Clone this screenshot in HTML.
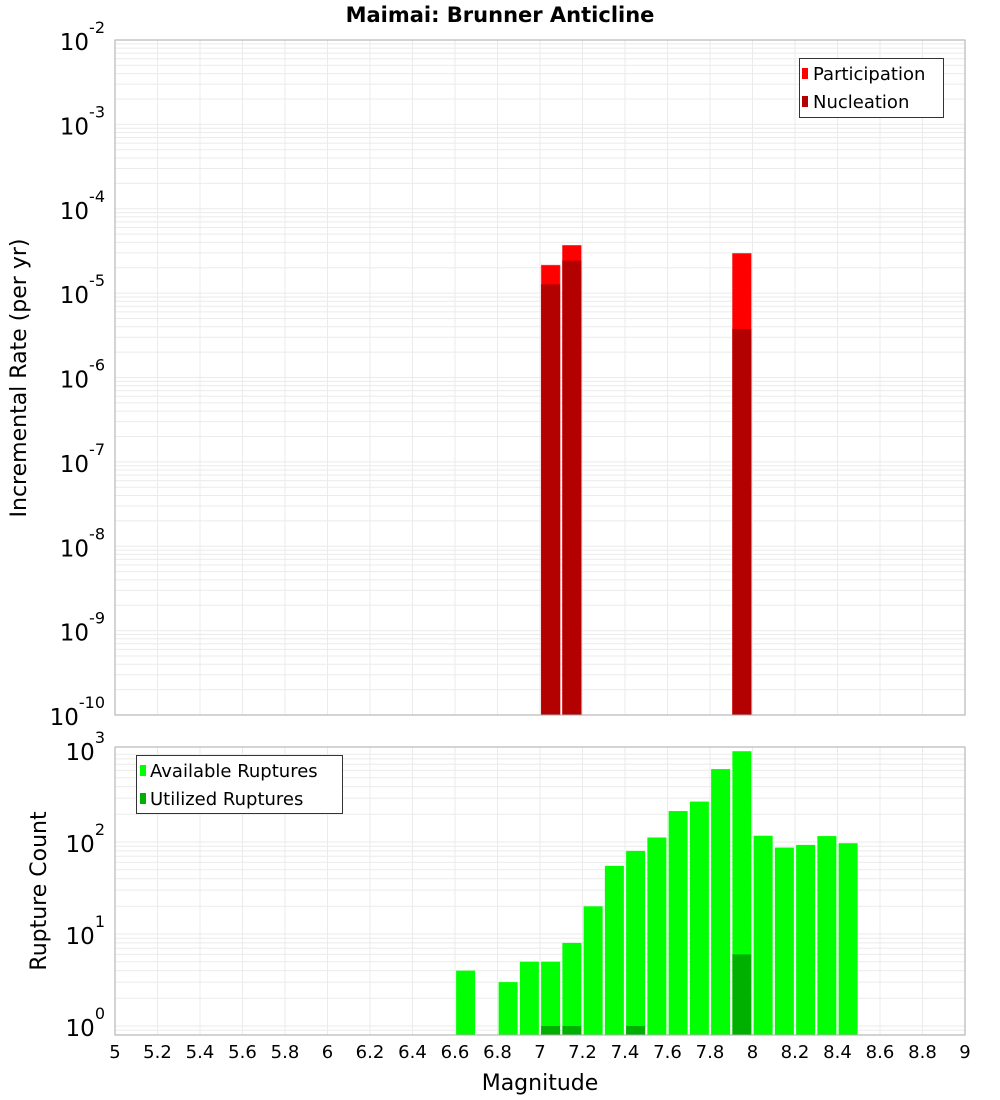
<!DOCTYPE html>
<html><head><meta charset="utf-8"><style>
body{margin:0;background:#fff;}
svg{display:block;font-family:"DejaVu Sans","Liberation Sans",sans-serif;}
</style></head><body>
<svg id="chart" width="1000" height="1100" viewBox="0 0 1000 1100">
<text x="500" y="22" text-anchor="middle" font-size="21" font-weight="bold">Maimai: Brunner Anticline</text>
<g id="topPlot"></g>
<g id="botPlot"></g>
<text transform="translate(26,378) rotate(-90)" text-anchor="middle" font-size="22">Incremental Rate (per yr)</text>
<text transform="translate(46,891) rotate(-90)" text-anchor="middle" font-size="22">Rupture Count</text>
<text x="540" y="1090" text-anchor="middle" font-size="22">Magnitude</text>
</svg>
<script>
const NS="http://www.w3.org/2000/svg";
const partMags=[7.05,7.15,7.95];
const partRates=[2.15e-5,3.69e-5,2.96e-5];
const nuclMags=[7.05,7.15,7.95];
const nuclRates=[1.27e-5,2.43e-5,3.76e-6];
const availMags=[6.65,6.85,6.95,7.05,7.15,7.25,7.35,7.45,7.55,7.65,7.75,7.85,7.95,8.05,8.15,8.25,8.35,8.45];
const availCounts=[4,3,5,5,8,20,55,80,112,217,275,620,970,117,87,93,116,97];
const usedMags=[7.05,7.15,7.45,7.95];
const usedCounts=[1,1,1,6];
const xTicks=["5","5.2","5.4","5.6","5.8","6","6.2","6.4","6.6","6.8","7","7.2","7.4","7.6","7.8","8","8.2","8.4","8.6","8.8","9"];
const topExps=[-2,-3,-4,-5,-6,-7,-8,-9,-10];
const botExps=[3,2,1,0];

const X0=115,X1=965;
const xs=m=>X0+(m-5)/4*(X1-X0);
const TY0=40,TY1=715;
const ty=v=>TY0+(-2-Math.log10(v))*(TY1-TY0)/8;
const BY0=747,BY1=1035;
const by=v=>1026-Math.log10(v)*92;
const BW=19;

function el(parent,tag,attrs){const e=document.createElementNS(NS,tag);for(const k in attrs)e.setAttribute(k,attrs[k]);parent.appendChild(e);return e;}

function frame(g,y0,y1,yfun,dmin,dmax){
  el(g,'rect',{x:X0,y:y0,width:X1-X0,height:y1-y0,fill:'#fff'});
  for(let d=dmin;d<dmax;d++){for(let k=1;k<10;k++){const v=k*Math.pow(10,d);const y=yfun(v);if(y<y0||y>y1)continue;
    el(g,'line',{x1:X0,x2:X1,y1:y,y2:y,stroke:'#ebebeb','stroke-width':1});}}
  for(let i=0;i<xTicks.length;i++){const x=xs(+xTicks[i]);el(g,'line',{x1:x,x2:x,y1:y0,y2:y1,stroke:'#ebebeb','stroke-width':1});}
}
function border(g,y0,y1){el(g,'rect',{x:X0,y:y0,width:X1-X0,height:y1-y0,fill:'none',stroke:'#aaa','stroke-width':1});}
function ylab(g,y,exp,name){
  const t=el(g,'text',{x:105,y:y+10,'text-anchor':'end','font-size':23});
  
  
  const a=document.createElementNS(NS,'tspan');a.textContent='10';t.appendChild(a);
  const b=document.createElementNS(NS,'tspan');b.textContent=String(exp);b.setAttribute('font-size','16');b.setAttribute('dy','-17');t.appendChild(b);
}

// top
const topG=document.getElementById('topPlot');
frame(topG,TY0,TY1,ty,-10,-2);
for(let i=0;i<partMags.length;i++){const x=xs(partMags[i])-BW/2;const y=ty(partRates[i]);
  const r=el(topG,'rect',{x:x,y:y,width:BW,height:TY1-y,fill:'#ff0000',stroke:'#ff6060','stroke-width':0.5});
  
  }
for(let i=0;i<nuclMags.length;i++){const x=xs(nuclMags[i])-BW/2;const y=ty(nuclRates[i]);
  const r=el(topG,'rect',{x:x,y:y,width:BW,height:TY1-y,fill:'#b30000'});
  
  }
border(topG,TY0,TY1);
topExps.forEach(e=>ylab(topG,ty(Math.pow(10,e)),e,'top-y-tick-label'));
{const lg=el(topG,'g',{});


el(lg,'rect',{x:799.5,y:58.5,width:144,height:59,fill:'#fff',stroke:'#333','stroke-width':1});
el(lg,'rect',{x:802,y:68,width:6,height:11,fill:'#ff0000'});
el(lg,'rect',{x:802,y:96,width:6,height:11,fill:'#b30000'});
const t1=el(lg,'text',{x:813,y:80,'font-size':18});t1.textContent='Participation';
const t2=el(lg,'text',{x:813,y:108,'font-size':18});t2.textContent='Nucleation';}

// bottom
const botG=document.getElementById('botPlot');
frame(botG,BY0,BY1,by,-1,3);
for(let i=0;i<availMags.length;i++){const x=xs(availMags[i])-BW/2;const y=by(availCounts[i]);
  const r=el(botG,'rect',{x:x,y:y,width:BW,height:BY1-y,fill:'#00ff00'});
  
  }
for(let i=0;i<usedMags.length;i++){const x=xs(usedMags[i])-BW/2;const y=by(usedCounts[i]);
  const r=el(botG,'rect',{x:x,y:y,width:BW,height:BY1-y,fill:'#00b000'});
  
  }
border(botG,BY0,BY1);
botExps.forEach(e=>ylab(botG,by(Math.pow(10,e)),e,'bottom-y-tick-label'));
{const lg=el(botG,'g',{});


el(lg,'rect',{x:136.5,y:755.5,width:206,height:58,fill:'#fff',stroke:'#333','stroke-width':1});
el(lg,'rect',{x:140,y:765,width:6,height:11,fill:'#00ff00'});
el(lg,'rect',{x:140,y:793,width:6,height:11,fill:'#00b000'});
const t1=el(lg,'text',{x:150,y:777,'font-size':18});t1.textContent='Available Ruptures';
const t2=el(lg,'text',{x:150,y:805,'font-size':18});t2.textContent='Utilized Ruptures';}
xTicks.forEach(t=>{const tx=el(botG,'text',{x:xs(+t),y:1058,'text-anchor':'middle','font-size':18});tx.textContent=t;
  
  });
</script>
</body></html>
